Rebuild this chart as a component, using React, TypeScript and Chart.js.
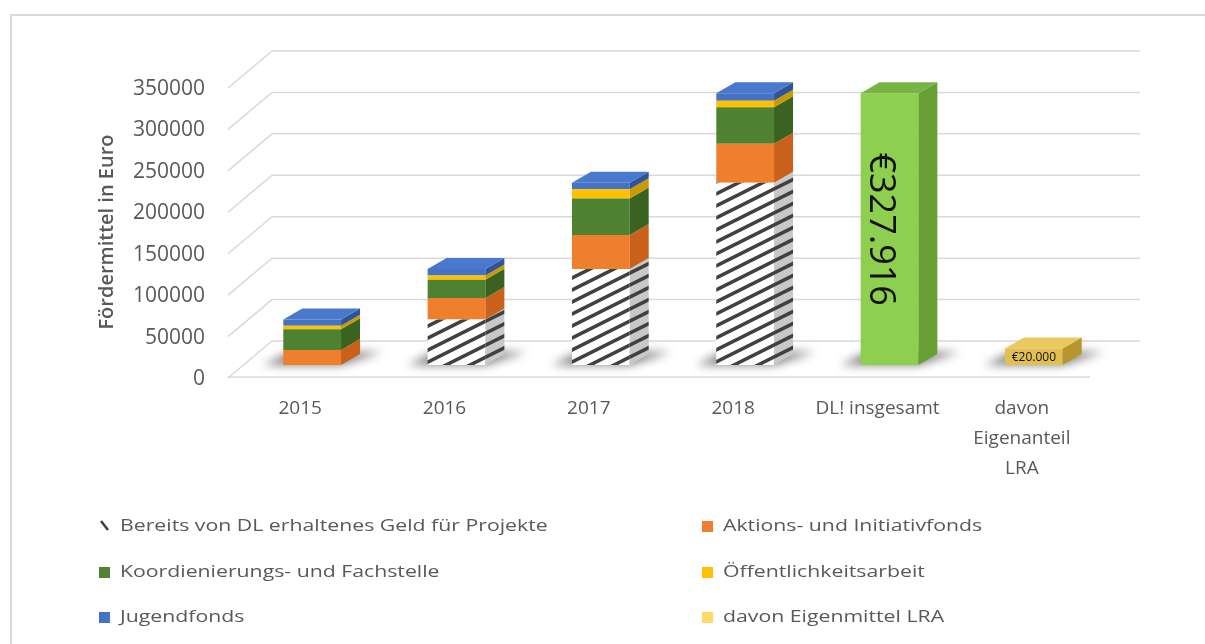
import React, { useEffect, useRef } from "react";
import { Chart, registerables } from "chart.js";

Chart.register(...registerables);

// ---------- data ----------
const categories = [["2015"], ["2016"], ["2017"], ["2018"], ["DL! insgesamt"], ["davon", "Eigenanteil", "LRA"]];
const bereits = [0, 55000, 116000, 220000, null, null];
const aktions = [18000, 26000, 41000, 47000, null, null];
const koord = [25000, 22000, 44000, 44000, null, null];
const oeffentlich = [4500, 5000, 11000, 8000, null, null];
const jugend = [7500, 8000, 8000, 8916, null, null];
const eigenmittel = [null, null, null, null, null, 20000];
const insgesamt = [null, null, null, null, 327916, null];
const yTicks = [0, 50000, 100000, 150000, 200000, 250000, 300000, 350000];
const totalLabel = "€327.916";
const eigenLabel = "€20.000";
const yTitle = "Fördermittel in Euro";

const FONT = "'Open Sans', sans-serif";
const TEXT = "#595959";
const DX = 19;
const DY = 11;

function mkPattern(bg: string, fg: string, lw: number) {
  const c = document.createElement("canvas");
  c.width = 24;
  c.height = 12;
  const g = c.getContext("2d")!;
  g.fillStyle = bg;
  g.fillRect(0, 0, 24, 12);
  g.strokeStyle = fg;
  g.lineWidth = lw;
  for (const c0 of [-12, 0, 12, 24, 36]) {
    g.beginPath();
    g.moveTo(-24, c0 + 12);
    g.lineTo(48, c0 - 24);
    g.stroke();
  }
  return g.createPattern(c, "repeat")!;
}

function segments(chart: any, i: number) {
  const out: any[] = [];
  chart.data.datasets.forEach((ds: any, d: number) => {
    const v = ds.data[i];
    if (v == null || v <= 0) return;
    const el = chart.getDatasetMeta(d).data[i];
    if (!el || !isFinite(el.y)) return;
    out.push({ ds, el, d });
  });
  return out;
}

const threeD = {
  id: "threeD",
  beforeDraw(chart: any) {
    const ctx = chart.ctx;
    ctx.save();
    ctx.strokeStyle = "#d9d9d9";
    ctx.lineWidth = 2;
    ctx.beginPath();
    ctx.moveTo(11, 644);
    ctx.lineTo(11, 15);
    ctx.lineTo(1205, 15);
    ctx.stroke();
    ctx.restore();
  },
  beforeDatasetsDraw(chart: any) {
    const ctx = chart.ctx;
    const y = chart.scales.y;
    const { left, right } = chart.chartArea;
    ctx.save();
    ctx.strokeStyle = "#d9d9d9";
    ctx.lineWidth = 1.5;
    for (const v of yTicks) {
      const p = y.getPixelForValue(v);
      ctx.beginPath();
      ctx.moveTo(left - 12, p + 13);
      ctx.lineTo(left + 32, p - 24);
      ctx.lineTo(right + 34, p - 24);
      ctx.stroke();
    }
    const p0 = y.getPixelForValue(0);
    ctx.beginPath();
    ctx.moveTo(left - 12, p0 + 12);
    ctx.lineTo(right - 16, p0 + 12);
    ctx.stroke();
    // floor shadows
    for (let i = 0; i < categories.length; i++) {
      const segs = segments(chart, i);
      if (!segs.length) continue;
      const el = segs[0].el;
      const xl = el.x - el.width / 2;
      const xr = el.x + el.width / 2;
      const b = el.base;
      ctx.save();
      ctx.filter = "blur(5px)";
      ctx.fillStyle = "rgba(0,0,0,0.5)";
      ctx.beginPath();
      ctx.moveTo(xl - 20, b);
      ctx.lineTo(xr, b);
      ctx.lineTo(xr + DX + 22, b - DY - 2);
      ctx.lineTo(xl + DX - 12, b - DY - 2);
      ctx.closePath();
      ctx.fill();
      ctx.restore();
    }
    ctx.restore();
  },
  afterDatasetsDraw(chart: any) {
    const ctx = chart.ctx;
    ctx.save();
    for (let i = 0; i < categories.length; i++) {
      const segs = segments(chart, i);
      if (!segs.length) continue;
      for (const s of segs) {
        const el = s.el;
        const xr = el.x + el.width / 2;
        ctx.fillStyle = s.ds.sideColor;
        ctx.beginPath();
        ctx.moveTo(xr, el.y);
        ctx.lineTo(xr + DX, el.y - DY);
        ctx.lineTo(xr + DX, el.base - DY);
        ctx.lineTo(xr, el.base);
        ctx.closePath();
        ctx.fill();
      }
      const t = segs[segs.length - 1];
      const el = t.el;
      const xl = el.x - el.width / 2;
      const xr = el.x + el.width / 2;
      ctx.fillStyle = t.ds.topColor;
      ctx.beginPath();
      ctx.moveTo(xl, el.y);
      ctx.lineTo(xl + DX, el.y - DY);
      ctx.lineTo(xr + DX, el.y - DY);
      ctx.lineTo(xr, el.y);
      ctx.closePath();
      ctx.fill();
    }
    // value labels
    chart.data.datasets.forEach((ds: any, d: number) => {
      if (!ds.valueText) return;
      ds.data.forEach((v: any, i: number) => {
        if (v == null) return;
        const el = chart.getDatasetMeta(d).data[i];
        ctx.save();
        ctx.fillStyle = "#111";
        ctx.textAlign = "center";
        ctx.textBaseline = "middle";
        if (ds.valueRotate) {
          ctx.translate(el.x - 9, (el.y + el.base) / 2);
          ctx.rotate(Math.PI / 2);
          ctx.font = `36px ${FONT}`;
          ctx.fillText(ds.valueText, 0, 0);
        } else {
          ctx.font = `12px ${FONT}`;
          ctx.fillText(ds.valueText, el.x, (el.y + el.base) / 2 + 1);
        }
        ctx.restore();
      });
    });
    ctx.restore();
  },
  afterDraw(chart: any) {
    const ctx = chart.ctx;
    ctx.save();
    // y-axis title
    ctx.translate(107, 232);
    ctx.rotate(-Math.PI / 2);
    ctx.font = `600 20px ${FONT}`;
    ctx.fillStyle = TEXT;
    ctx.textAlign = "center";
    ctx.textBaseline = "middle";
    ctx.fillText(yTitle, 0, 0);
    ctx.restore();
    // legend
    const slots = [
      [99, 526],
      [702, 526],
      [99, 572],
      [702, 572],
      [99, 617],
      [702, 617],
    ];
    ctx.save();
    ctx.font = `17px ${FONT}`;
    ctx.textBaseline = "middle";
    ctx.textAlign = "left";
    let k = 0;
    chart.data.datasets.forEach((ds: any) => {
      if (ds.hideLegend) return;
      const [x, yc] = slots[k++];
      if (ds.legendHatch) {
        ctx.strokeStyle = "#404040";
        ctx.lineWidth = 2.5;
        ctx.beginPath();
        ctx.moveTo(x + 2, yc - 5);
        ctx.lineTo(x + 9, yc + 4);
        ctx.stroke();
      } else {
        ctx.fillStyle = ds.legendColor;
        ctx.fillRect(x, yc - 5, 11, 11);
      }
      ctx.save();
      ctx.translate(x + 21, yc);
      ctx.scale(1.25, 1);
      ctx.fillStyle = TEXT;
      ctx.fillText(ds.label, 0, 0);
      ctx.restore();
    });
    ctx.restore();
  },
};

export default function App() {
  const ref = useRef<HTMLCanvasElement>(null);
  useEffect(() => {
    const canvas = ref.current!;
    const hatch = mkPattern("#ffffff", "#404040", 3.5);
    const hatchSide = mkPattern("#c8c8c8", "#404040", 3.5);
    const chart = new Chart(canvas, {
      type: "bar",
      data: {
        labels: categories,
        datasets: [
          { label: "Bereits von DL erhaltenes Geld für Projekte", data: bereits, backgroundColor: hatch, sideColor: hatchSide, topColor: "#ffffff", legendHatch: true },
          { label: "Aktions- und Initiativfonds", data: aktions, backgroundColor: "#f07f2d", sideColor: "#c9611b", topColor: "#f5924a", legendColor: "#ed7d31" },
          { label: "Koordienierungs- und Fachstelle", data: koord, backgroundColor: "#4f8230", sideColor: "#3a6322", topColor: "#5a8f39", legendColor: "#548235" },
          { label: "Öffentlichkeitsarbeit", data: oeffentlich, backgroundColor: "#ffc000", sideColor: "#cc9a00", topColor: "#ffcc33", legendColor: "#ffc000" },
          { label: "Jugendfonds", data: jugend, backgroundColor: "#4472c4", sideColor: "#2f5597", topColor: "#4a78cc", legendColor: "#4472c4" },
          { label: "davon Eigenmittel LRA", data: eigenmittel, backgroundColor: "#e2bf52", sideColor: "#b8962f", topColor: "#e9c960", legendColor: "#ffd966", valueText: eigenLabel },
          { label: "DL! insgesamt", data: insgesamt, backgroundColor: "#8fcf4f", sideColor: "#69a036", topColor: "#78b443", hideLegend: true, valueText: totalLabel, valueRotate: true },
        ] as any,
      },
      options: {
        animation: false,
        responsive: false,
        events: [],
        layout: { padding: { left: 0, top: 75, right: 99, bottom: 0 } },
        datasets: { bar: { barPercentage: 0.4, categoryPercentage: 1, borderWidth: 0 } },
        plugins: { legend: { display: false }, tooltip: { enabled: false } },
        scales: {
          x: {
            stacked: true,
            grid: { display: false, drawTicks: false },
            border: { display: false },
            ticks: {
              color: TEXT,
              font: { family: FONT, size: 19, lineHeight: 1.58 },
              padding: 29,
              labelOffset: -12,
              maxRotation: 0,
              autoSkip: false,
            },
            afterFit: (s: any) => {
              s.height = 644 - 365;
            },
          },
          y: {
            stacked: true,
            min: 0,
            max: 350000,
            grid: { display: false, drawTicks: false },
            border: { display: false },
            ticks: {
              stepSize: 50000,
              color: TEXT,
              font: { family: FONT, size: 21 },
              padding: 35,
              labelOffset: 14,
              callback: (v: any) => String(v),
            },
            afterFit: (s: any) => {
              s.width = 240;
            },
          },
        },
      },
      plugins: [threeD],
    });
    return () => chart.destroy();
  }, []);
  return (
    <div style={{ position: "absolute", left: 0, top: 0, width: 1205, height: 644, background: "#fff" }}>
      <canvas ref={ref} width={1205} height={644} />
    </div>
  );
}
